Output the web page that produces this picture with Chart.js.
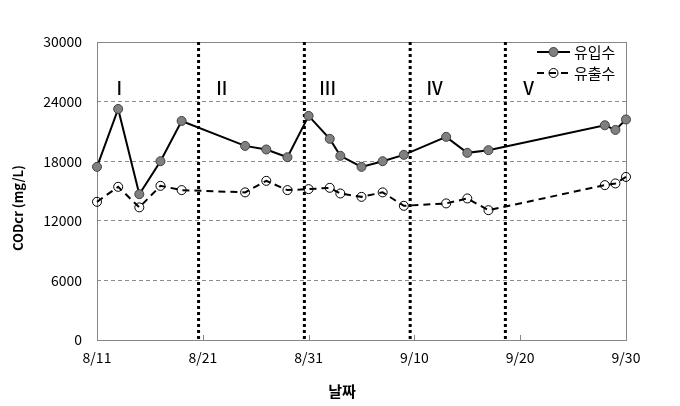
<!DOCTYPE html>
<html>
<head>
<meta charset="utf-8">
<script src="https://cdn.jsdelivr.net/npm/chart.js@4/dist/chart.umd.min.js"></script>
<style>
  html, body { margin: 0; padding: 0; background: #fff; }
</style>
</head>
<body>
<canvas id="codChart" width="680" height="406"></canvas>
<script>
//chart data
var sampleDates = ['8/11', '8/13', '8/15', '8/17', '8/19', '8/25', '8/27', '8/29', '8/31', '9/2',
                   '9/3', '9/5', '9/7', '9/9', '9/13', '9/15', '9/17', '9/28', '9/29', '9/30'];
var inflowCOD = [17430, 23260, 14680, 18000, 22050, 19540, 19180, 18400, 22560, 20250,
                 18540, 17430, 18000, 18640, 20450, 18840, 19110, 21620, 21150, 22200];
var outflowCOD = [13910, 15420, 13350, 15520, 15090, 14860, 16020, 15090, 15190, 15320,
                  14750, 14410, 14860, 13510, 13750, 14250, 13070, 15590, 15760, 16420];
var xTickLabels = ['8/11', '8/21', '8/31', '9/10', '9/20', '9/30'];
var seriesNames = ['유입수', '유출수'];
//operation periods (days after 8/11)
var periodDividers = [9.6, 19.6, 29.6, 38.6];
var periodNames = ['I', 'II', 'III', 'IV', 'V'];
var periodNameDays = [2.1, 11.8, 21.8, 31.9, 40.8];

var FONT = "'Noto Sans CJK KR', 'Noto Sans', sans-serif";

//days since 8/11
function dayIndex(str) {
    var parts = str.split('/');
    var m = parseInt(parts[0], 10), d = parseInt(parts[1], 10);
    return m === 8 ? d - 11 : 20 + d;
}
function toPoints(values) {
    return values.map(function (v, i) { return { x: dayIndex(sampleDates[i]), y: v }; });
}

//draws frame, dividers, period names, legend and axis titles
var decorations = {
    id: 'decorations',
    beforeDatasetsDraw: function (chart) {
        var ctx = chart.ctx, area = chart.chartArea, xs = chart.scales.x;
        ctx.save();
        // frame
        ctx.strokeStyle = '#868686';
        ctx.lineWidth = 1;
        ctx.strokeRect(area.left + 0.5, area.top + 0.5, area.right - area.left, area.bottom - area.top);
        // small inside tick marks on x axis
        xs.ticks.forEach(function (t) {
            var px = Math.round(xs.getPixelForValue(t.value)) + 0.5;
            ctx.beginPath();
            ctx.moveTo(px, area.bottom);
            ctx.lineTo(px, area.bottom - 5);
            ctx.stroke();
        });
        // period dividers
        ctx.strokeStyle = '#000';
        ctx.lineWidth = 3;
        ctx.setLineDash([3, 3]);
        periodDividers.forEach(function (d) {
            var px = xs.getPixelForValue(d);
            ctx.beginPath();
            ctx.moveTo(px, area.top);
            ctx.lineTo(px, area.bottom);
            ctx.stroke();
        });
        ctx.setLineDash([]);
        // period names
        ctx.fillStyle = '#000';
        ctx.font = '500 18px ' + FONT;
        ctx.textAlign = 'center';
        ctx.textBaseline = 'middle';
        periodNames.forEach(function (name, i) {
            ctx.fillText(name, xs.getPixelForValue(periodNameDays[i]), area.top + 46);
        });
        ctx.restore();
    },
    afterDraw: function (chart) {
        var ctx = chart.ctx, area = chart.chartArea;
        ctx.save();
        // legend
        var lx = area.right - 89, rows = [area.top + 10, area.top + 31];
        ctx.font = '15px ' + FONT;
        ctx.textAlign = 'left';
        ctx.textBaseline = 'middle';
        rows.forEach(function (ry, i) {
            ctx.strokeStyle = '#000';
            ctx.lineWidth = 2;
            ctx.setLineDash(i === 0 ? [] : [7, 5]);
            ctx.beginPath();
            ctx.moveTo(lx, ry);
            ctx.lineTo(lx + 33, ry);
            ctx.stroke();
            ctx.setLineDash([]);
            ctx.beginPath();
            ctx.arc(lx + 16.5, ry, 4.5, 0, Math.PI * 2);
            ctx.lineWidth = 1;
            if (i === 0) {
                ctx.fillStyle = '#808080';
                ctx.fill();
                ctx.strokeStyle = '#404040';
            }
            ctx.stroke();
            ctx.fillStyle = '#000';
            ctx.fillText(seriesNames[i], lx + 37, ry);
        });
        // axis titles
        ctx.font = 'bold 15px ' + FONT;
        ctx.textAlign = 'center';
        ctx.fillText('날짜', 342, 391);
        ctx.translate(18, 208);
        ctx.rotate(-Math.PI / 2);
        ctx.font = 'bold 13px ' + FONT;
        ctx.fillText('CODcr (mg/L)', 0, 0);
        ctx.restore();
    }
};

var ctx = document.getElementById('codChart').getContext('2d');
var chart = new Chart(ctx, {
    type: 'line',
    data: {
        datasets: [{
                label: seriesNames[0],
                data: toPoints(inflowCOD),
                borderColor: '#000',
                borderWidth: 2,
                pointRadius: 4.5,
                pointBackgroundColor: '#808080',
                pointBorderColor: '#404040',
                pointBorderWidth: 1,
                tension: 0,
                clip: false
            },
            {
                label: seriesNames[1],
                data: toPoints(outflowCOD),
                borderColor: '#000',
                borderWidth: 2,
                borderDash: [7, 5],
                pointRadius: 4.5,
                pointBackgroundColor: 'rgba(255,255,255,0)',
                pointBorderColor: '#000',
                pointBorderWidth: 1,
                tension: 0,
                clip: false
            }]
    },
    options: {
        responsive: false,
        animation: false,
        devicePixelRatio: 1,
        layout: { padding: { top: 42, right: 54, bottom: 0, left: 0 } },
        plugins: {
            legend: { display: false },
            tooltip: { enabled: false }
        },
        scales: {
            x: {
                type: 'linear',
                min: 0,
                max: 50,
                ticks: {
                    stepSize: 10,
                    padding: 9,
                    color: '#000',
                    font: { family: FONT, size: 14 },
                    callback: function (value, index) { return xTickLabels[index]; }
                },
                grid: { display: false, drawTicks: false },
                border: { display: false },
                afterFit: function (scale) { scale.height = 66; }
            },
            y: {
                min: 0,
                max: 30000,
                ticks: {
                    stepSize: 6000,
                    padding: 15,
                    color: '#000',
                    font: { family: FONT, size: 14 },
                    callback: function (value) { return String(value); }
                },
                grid: {
                    drawTicks: false,
                    color: function (c) {
                        return (c.tick.value === 0 || c.tick.value === 30000) ? 'rgba(0,0,0,0)' : '#8c8c8c';
                    },
                    lineWidth: 1
                },
                border: { display: false, dash: [4, 3] },
                afterFit: function (scale) { scale.width = 97; }
            }
        }
    },
    plugins: [decorations]
});
</script>
</body>
</html>
